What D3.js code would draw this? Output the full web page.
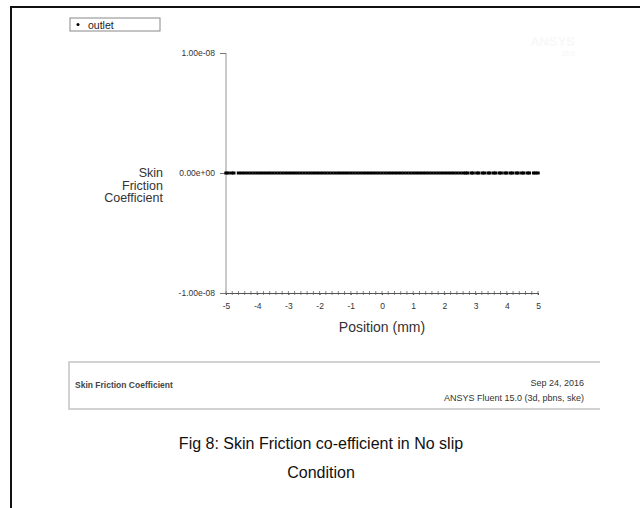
<!DOCTYPE html>
<html>
<head>
<meta charset="utf-8">
<script src="https://cdn.jsdelivr.net/npm/d3@7"></script>
<style>
  body { margin: 0; background: #fff; }
  svg { display: block; font-family: Arial, "Liberation Sans", sans-serif; }
</style>
</head>
<body>
<script>
const WIDTH = 640;
const HEIGHT = 508;

// tick labels
var xTicks = [-5, -4, -3, -2, -1, 0, 1, 2, 3, 4, 5];
var yTicks = [-1e-8, 0, 1e-8];
var yTickLabels = ['-1.00e-08', '0.00e+00', '1.00e-08'];

// outlet series: position (mm) and skin friction coefficient
var positions = [
    -5.0, -4.93, -4.82, -4.75,
    -4.6, -4.5, -4.4, -4.3, -4.2, -4.1, -4.0, -3.9, -3.8, -3.7, -3.6, -3.5,
    -3.4, -3.3, -3.2, -3.1, -3.0, -2.9, -2.8, -2.7, -2.6, -2.5, -2.4, -2.3,
    -2.2, -2.1, -2.0, -1.9, -1.8, -1.7, -1.6, -1.5, -1.4, -1.3, -1.2, -1.1,
    -1.0, -0.9, -0.8, -0.7, -0.6, -0.5, -0.4, -0.3, -0.2, -0.1, 0.0, 0.1,
    0.2, 0.3, 0.4, 0.5, 0.6, 0.7, 0.8, 0.9, 1.0, 1.1, 1.2, 1.3, 1.4, 1.5,
    1.6, 1.7, 1.8, 1.9, 2.0, 2.1, 2.2, 2.3, 2.4, 2.5, 2.6,
    2.68, 2.74, 2.86, 2.92, 3.04, 3.1, 3.22, 3.28, 3.4, 3.46, 3.58, 3.64,
    3.76, 3.82, 3.94, 4.0, 4.12, 4.18, 4.3, 4.36, 4.48, 4.54, 4.66, 4.72,
    4.86, 4.92, 5.0
];
var friction = [
    0, 0, 0, 0,
    0, 0, 0, 0, 0, 0, 0, 0, 0, 0, 0, 0,
    0, 0, 0, 0, 0, 0, 0, 0, 0, 0, 0, 0,
    0, 0, 0, 0, 0, 0, 0, 0, 0, 0, 0, 0,
    0, 0, 0, 0, 0, 0, 0, 0, 0, 0, 0, 0,
    0, 0, 0, 0, 0, 0, 0, 0, 0, 0, 0, 0, 0, 0,
    0, 0, 0, 0, 0, 0, 0, 0, 0, 0, 0,
    0, 0, 0, 0, 0, 0, 0, 0, 0, 0, 0, 0,
    0, 0, 0, 0, 0, 0, 0, 0, 0, 0, 0, 0,
    0, 0, 0
];

var svg = d3.select('body').append('svg')
    .attr('width', WIDTH)
    .attr('height', HEIGHT);

// outer frame (top and left edges)
svg.append('path')
    .attr('d', 'M11,' + HEIGHT + ' V7 H' + WIDTH)
    .attr('fill', 'none')
    .attr('stroke', '#111')
    .attr('stroke-width', 2);

// faint watermark
svg.append('text').attr('x', 575).attr('y', 46).attr('text-anchor', 'end')
    .attr('font-size', 13).attr('font-weight', 'bold').attr('fill', '#f8f8f8')
    .text('ANSYS');
svg.append('text').attr('x', 575).attr('y', 56).attr('text-anchor', 'end')
    .attr('font-size', 7).attr('font-weight', 'bold').attr('fill', '#f8f8f8')
    .text('15.0');

// legend
svg.append('rect')
    .attr('x', 70).attr('y', 18).attr('width', 90).attr('height', 13)
    .attr('fill', '#fff').attr('stroke', '#888').attr('stroke-width', 1);
svg.append('circle').attr('cx', 78).attr('cy', 24.5).attr('r', 1.5).attr('fill', '#000');
svg.append('text').attr('x', 88).attr('y', 28.5).attr('font-size', 10.5).attr('fill', '#222')
    .text('outlet');

var xScale = d3.scaleLinear().domain([-5, 5]).range([226, 538]);
var yScale = d3.scaleLinear().domain([-1e-8, 1e-8]).range([293, 53]);

// y axis
var yAxis = d3.axisLeft(yScale)
    .tickValues(yTicks)
    .tickSize(6)
    .tickPadding(5)
    .tickFormat(function (d, i) { return yTickLabels[i]; });
var gy = svg.append('g')
    .attr('transform', 'translate(226,0)')
    .call(yAxis);
gy.select('.domain').attr('stroke', '#b8b8b8').attr('stroke-width', 1.5)
    .attr('d', 'M0,' + yScale(1e-8) + 'V' + yScale(-1e-8));
gy.selectAll('.tick line').attr('stroke', '#777');
gy.selectAll('.tick text').attr('font-size', 8.5).attr('fill', '#333');

// x axis minor ticks
var minor = d3.range(-5, 5.001, 0.2);
svg.append('g').selectAll('line')
    .data(minor)
    .enter().append('line')
    .attr('x1', function (d) { return xScale(d); })
    .attr('x2', function (d) { return xScale(d); })
    .attr('y1', 291).attr('y2', 295)
    .attr('stroke', '#666').attr('stroke-width', 0.8);

// x axis
var xAxis = d3.axisBottom(xScale)
    .tickValues(xTicks)
    .tickSize(2)
    .tickPadding(8)
    .tickFormat(d3.format('d'));
var gx = svg.append('g')
    .attr('transform', 'translate(0,293)')
    .call(xAxis);
gx.select('.domain').attr('stroke', '#555').attr('stroke-width', 1);
gx.selectAll('.tick line').attr('stroke', '#555');
gx.selectAll('.tick text').attr('font-size', 8.5).attr('fill', '#333')
    .text(function (d) { return d < 0 ? '-' + Math.abs(d) : d; });

svg.append('text')
    .attr('x', 382).attr('y', 332)
    .attr('text-anchor', 'middle')
    .attr('font-size', 14).attr('fill', '#333')
    .text('Position (mm)');

// y title
var yTitle = ['Skin', 'Friction', 'Coefficient'];
svg.append('g').selectAll('text')
    .data(yTitle)
    .enter().append('text')
    .attr('x', 163)
    .attr('y', function (d, i) { return 177 + i * 12.5; })
    .attr('text-anchor', 'end')
    .attr('font-size', 12.5).attr('fill', '#333')
    .text(function (d) { return d; });

// data points
svg.append('g').selectAll('rect')
    .data(positions)
    .enter().append('rect')
    .attr('x', function (d) { return xScale(d) - 1.7; })
    .attr('y', function (d, i) { return yScale(friction[i]) - 1.5; })
    .attr('width', 3.4)
    .attr('height', 3)
    .attr('fill', '#000');

// footer box
svg.append('path')
    .attr('d', 'M600,362 H69 V409 H600')
    .attr('fill', 'none')
    .attr('stroke', '#c4c4c4')
    .attr('stroke-width', 1.5);
svg.append('text').attr('x', 75).attr('y', 388)
    .attr('font-size', 8.5).attr('font-weight', 'bold').attr('fill', '#444')
    .text('Skin Friction Coefficient');
svg.append('text').attr('x', 584).attr('y', 386).attr('text-anchor', 'end')
    .attr('font-size', 9).attr('fill', '#333')
    .text('Sep 24, 2016');
svg.append('text').attr('x', 584).attr('y', 401).attr('text-anchor', 'end')
    .attr('font-size', 9).attr('fill', '#333')
    .text('ANSYS Fluent 15.0 (3d, pbns, ske)');

// caption
var caption = ['Fig 8: Skin Friction co-efficient in No slip', 'Condition'];
svg.append('g').selectAll('text')
    .data(caption)
    .enter().append('text')
    .attr('x', 321)
    .attr('y', function (d, i) { return 449 + i * 29; })
    .attr('text-anchor', 'middle')
    .attr('font-size', 16).attr('fill', '#111')
    .text(function (d) { return d; });
</script>
</body>
</html>
